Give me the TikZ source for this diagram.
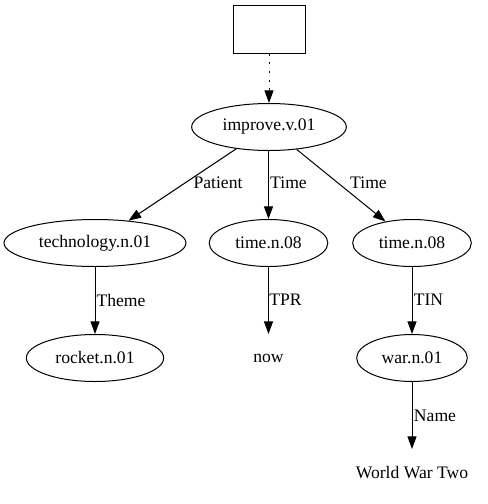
\documentclass[tikz,border=0pt]{standalone}
\usepackage{fontspec}
\setmainfont{Liberation Serif}
\usepackage{tikz}
\usetikzlibrary{shapes.geometric,arrows.meta}

\begin{document}
\begin{tikzpicture}[x=0.75pt,y=-0.75pt,line width=0.75pt,
    font=\fontsize{13.2}{15}\selectfont,
    synset/.style={draw, ellipse, inner sep=0pt, minimum height=35.25pt},
    plain/.style={inner sep=0pt, minimum height=35.25pt},
    rel/.style={-{Triangle[length=9.5pt,width=6.8pt]}},
    lbl/.style={inner sep=0pt}]

                \useasboundingbox (0,0) rectangle (488,504);

                \node[draw, minimum width=54pt, minimum height=36pt, inner sep=0pt] (nodeRoot) at (269,29) {};
                \node[synset, minimum width=116pt] (nodeImprove) at (269,127) {improve.v.01};

                \node[synset, minimum width=136.5pt] (nodeTech) at (95,243) {technology.n.01};
                \node[synset, minimum width=89pt] (nodeTimeA) at (268.5,243) {time.n.08};
                \node[synset, minimum width=89pt] (nodeTimeB) at (412,243) {time.n.08};

                \node[synset, minimum width=103pt] (nodeRocket) at (95,358) {rocket.n.01};
                \node[plain] (nodeNow) at (268.5,358) {now};
                \node[synset, minimum width=83pt] (nodeWar) at (412,358) {war.n.01};

                \node[plain] (nodeWWII) at (412,473) {World War Two};

                \draw [rel, dash pattern=on 1.5pt off 5pt] (nodeRoot) -- (nodeImprove);

                \draw [rel] (nodeImprove) -- (nodeTech) node[lbl] at (218,183) {Patient};
                \draw [rel] (nodeImprove.south -| nodeTimeA) -- (nodeTimeA) node[lbl] at (288.5,183) {Time};
                \draw [rel] (nodeImprove) -- (nodeTimeB) node[lbl] at (368.5,183) {Time};

                \draw [rel] (nodeTech) -- (nodeRocket) node[lbl] at (121,300) {Theme};
                \draw [rel] (nodeTimeA) -- (nodeNow) node[lbl] at (285.5,300) {TPR};
                \draw [rel] (nodeTimeB) -- (nodeWar) node[lbl] at (428.5,300) {TIN};

                \draw [rel] (nodeWar) -- (nodeWWII) node[lbl] at (435,416) {Name};

            \end{tikzpicture}
\end{document}
